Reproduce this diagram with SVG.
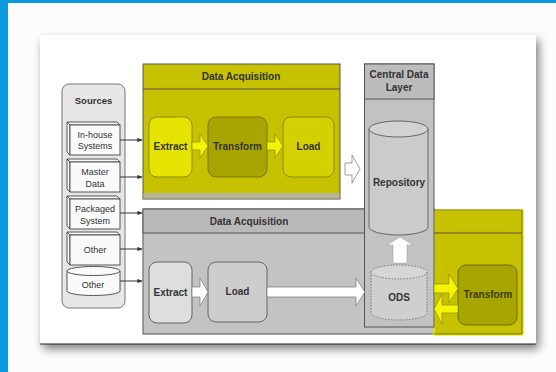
<svg xmlns="http://www.w3.org/2000/svg" width="556" height="372" viewBox="0 0 556 372">
<defs>
<filter id="sh" x="-10%" y="-10%" width="125%" height="130%">
<feGaussianBlur in="SourceAlpha" stdDeviation="5"/>
<feOffset dx="3" dy="5" result="b"/>
<feComponentTransfer><feFuncA type="linear" slope="0.5"/></feComponentTransfer>
<feMerge><feMergeNode/><feMergeNode in="SourceGraphic"/></feMerge>
</filter>
<marker id="ah" viewBox="0 0 6 6" refX="5.5" refY="3" markerWidth="5" markerHeight="5" orient="auto"><path d="M0,0.5 L6,3 L0,5.5 z" fill="#333"/></marker>
</defs>
<style>
text{font-family:"Liberation Sans","DejaVu Sans",Arial,sans-serif;fill:#333;text-anchor:middle}
.b{font-weight:bold;font-size:10px}
.s{font-size:9px;fill:#333}
.ln{stroke:#555;stroke-width:1}
.box3d{fill:#fafafa;stroke:#444;stroke-width:0.9}
.conn{stroke:#333;stroke-width:1;fill:none;marker-end:url(#ah)}
.ya{fill:#f4f400;stroke:#8a8a00;stroke-width:0.7}
.wa{fill:#ffffff;stroke:#777;stroke-width:0.7}
</style>
<rect x="0" y="0" width="556" height="372" fill="#fcfcfc"/>
<rect x="0" y="0" width="8" height="372" fill="#0b98dd"/>
<rect x="0" y="0" width="556" height="3" fill="#0b98dd"/>
<rect x="40" y="35" width="496" height="309" fill="#ffffff" filter="url(#sh)"/>
<line x1="40" y1="344" x2="536" y2="344" stroke="#222" stroke-width="1"/>

<g id="sources">
<rect x="62" y="84" width="63" height="224" rx="7" fill="#e6e6e6" stroke="#777" stroke-width="1"/>
<text x="93.5" y="104" class="b" style="font-size:9.5px">Sources</text>
</g>
<g id="src-inhouse">
<path class="box3d" d="M67,122 L117,122 L120,125 L70,125 Z M67,122 L70,125 L70,155 L67,152 Z"/>
<rect class="box3d" x="70" y="125" width="50" height="30"/>
<text class="s" x="95" y="137.5">In-house</text><text class="s" x="95" y="149">Systems</text>
</g>
<g id="src-master">
<path class="box3d" d="M67,159 L117,159 L120,162 L70,162 Z M67,159 L70,162 L70,192 L67,189 Z"/>
<rect class="box3d" x="70" y="162" width="50" height="30"/>
<text class="s" x="95" y="174.5">Master</text><text class="s" x="95" y="186.5">Data</text>
</g>
<g id="src-packaged">
<path class="box3d" d="M67,196 L117,196 L120,199 L70,199 Z M67,196 L70,199 L70,229 L67,226 Z"/>
<rect class="box3d" x="70" y="199" width="50" height="30"/>
<text class="s" x="95" y="211.5">Packaged</text><text class="s" x="95" y="223.5">System</text>
</g>
<g id="src-other1">
<path class="box3d" d="M67,232 L117,232 L120,235 L70,235 Z M67,232 L70,235 L70,265 L67,262 Z"/>
<rect class="box3d" x="70" y="235" width="50" height="30"/>
<text class="s" x="95" y="253">Other</text>
</g>
<g id="src-other2">
<path class="box3d" d="M67,271 L67,291 A26.5,4.5 0 0 0 120,291 L120,271" />
<ellipse cx="93.5" cy="271" rx="26.5" ry="4.5" class="box3d"/>
<text class="s" x="93" y="288">Other</text>
</g>

<g id="da-top">
<rect x="143" y="64" width="197" height="135" fill="#c6c200" stroke="#555" stroke-width="1"/>
<rect x="143.5" y="193" width="196" height="5.5" fill="#b6b49a"/>
<line class="ln" x1="143" y1="89" x2="340" y2="89"/>
<text x="241" y="80" class="b">Data Acquisition</text>
</g>
<g id="extract-top">
<rect x="149" y="117" width="43" height="60" rx="8" fill="#e4e400" stroke="#8a8a00" stroke-width="1"/>
<text x="170.5" y="150" class="b">Extract</text>
</g>
<g id="transform-top">
<rect x="208" y="117" width="59" height="60" rx="8" fill="#a8a500" stroke="#7a7800" stroke-width="1"/>
<text x="237.5" y="150" class="b">Transform</text>
</g>
<g id="load-top">
<rect x="283" y="117" width="51" height="60" rx="8" fill="#d4d100" stroke="#8a8a00" stroke-width="1"/>
<text x="308.5" y="150" class="b">Load</text>
</g>

<g id="da-bottom">
<rect x="143" y="209" width="291" height="125" fill="#c3c3c3" stroke="#555" stroke-width="1"/>
<rect x="143" y="209" width="291" height="24" fill="#b9b9b9" stroke="#555" stroke-width="1"/>
<text x="249" y="225" class="b">Data Acquisition</text>
</g>
<g id="extract-bottom">
<rect x="149" y="262" width="43" height="61" rx="8" fill="#dedede" stroke="#666" stroke-width="1"/>
<text x="170.5" y="296" class="b">Extract</text>
</g>
<g id="load-bottom">
<rect x="208" y="262" width="59" height="60" rx="8" fill="#cdcdcd" stroke="#666" stroke-width="1"/>
<text x="237.5" y="295" class="b">Load</text>
</g>

<g id="transform-area">
<rect x="434" y="210" width="89" height="125" fill="#c6c200" stroke="#f0f000" stroke-width="1.5"/>
<line class="ln" x1="434" y1="233" x2="522" y2="233"/>
<line x1="434" y1="210" x2="522" y2="210" stroke="#555" stroke-width="0.8"/>
<line x1="434" y1="334" x2="522" y2="334" stroke="#555" stroke-width="0.8"/>
<line x1="522" y1="210" x2="522" y2="334" stroke="#555" stroke-width="0.8"/>
</g>
<g id="transform-right">
<rect x="458" y="265" width="59" height="60" rx="8" fill="#a8a500" stroke="#6e6c00" stroke-width="1"/>
<text x="488" y="298" class="b" style="fill:#3a3a00">Transform</text>
</g>

<g id="central">
<rect x="364.5" y="64" width="69.5" height="263" fill="#c2c2c2" stroke="#555" stroke-width="1"/>
<rect x="364.5" y="64" width="69.5" height="35" fill="#bcbcbc" stroke="#555" stroke-width="1"/>
<text x="399" y="78" class="b">Central Data</text>
<text x="399" y="91" class="b">Layer</text>
</g>
<g id="repository">
<path d="M369,129 L369,227 A29.5,8 0 0 0 428,227 L428,129" fill="#cbcbcb" stroke="#666" stroke-width="1"/>
<ellipse cx="398.5" cy="129" rx="29.5" ry="8" fill="#d2d2d2" stroke="#666" stroke-width="1"/>
<text x="399" y="186" class="b">Repository</text>
</g>
<g id="ods">
<path d="M371,272 L371,313 A28,7 0 0 0 427,313 L427,272" fill="#cfcfcf" stroke="#777" stroke-width="1" stroke-dasharray="1.5,1.5"/>
<ellipse cx="399" cy="272" rx="28" ry="7" fill="#d6d6d6" stroke="#777" stroke-width="1" stroke-dasharray="1.5,1.5"/>
<text x="399" y="301" class="b">ODS</text>
</g>

<g id="connectors">
<line class="conn" x1="120" y1="140" x2="142" y2="140"/>
<line class="conn" x1="120" y1="177" x2="142" y2="177"/>
<line class="conn" x1="120" y1="213" x2="142" y2="213"/>
<line class="conn" x1="120" y1="249" x2="142" y2="249"/>
<line class="conn" x1="120" y1="281" x2="142" y2="281"/>
<path class="ya" d="M192,142 L200,142 L200,134 L208,146 L200,158 L200,150 L192,150 Z"/>
<path class="ya" d="M267,142 L275,142 L275,134 L283,146 L275,158 L275,150 L267,150 Z"/>
<path class="wa" d="M345,163 L352,163 L352,155 L360,169 L352,183 L352,175 L345,175 Z"/>
<path class="wa" d="M192,287 L200,287 L200,278 L208,292 L200,306 L200,297 L192,297 Z"/>
<path class="wa" d="M267,287 L356,287 L356,278 L365,292 L356,306 L356,297 L267,297 Z"/>
<path d="M393,263 L393,245 L387,245 L400,237 L413,245 L407,245 L407,263 Z" fill="#ffffff" stroke="#999" stroke-width="0.5"/>
<path class="ya" d="M434,284 L449,284 L449,274 L458,288.5 L449,303 L449,293 L434,293 Z"/>
<path class="ya" d="M458,305 L442,305 L442,294 L434,309 L442,324 L442,313 L458,313 Z"/>
</g>
</svg>
